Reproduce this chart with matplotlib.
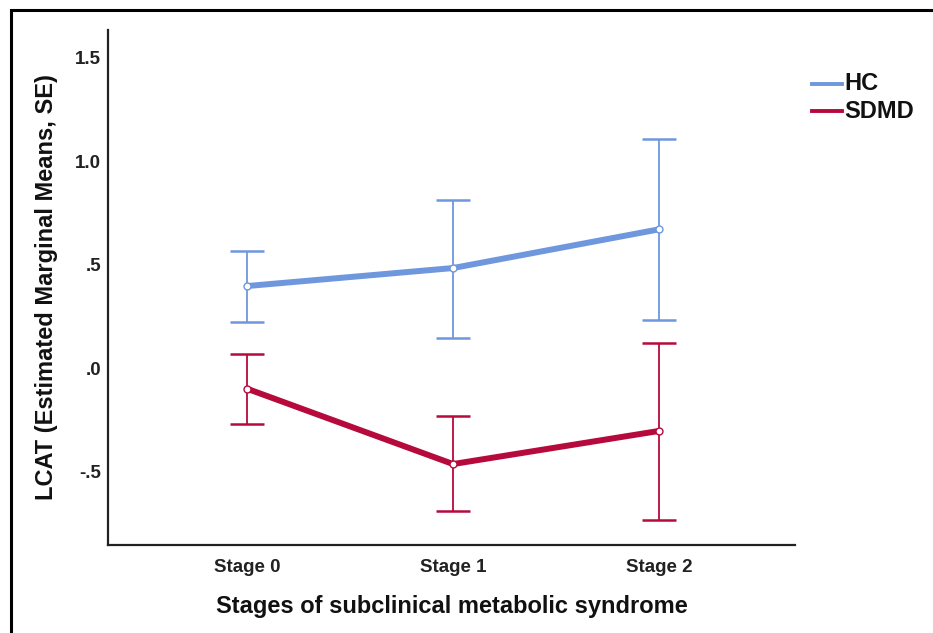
import matplotlib
matplotlib.use("Agg")
import matplotlib.pyplot as plt
from matplotlib.patches import Rectangle

plt.rcParams['font.family'] = ['Liberation Sans', 'DejaVu Sans']

stages = ["Stage 0", "Stage 1", "Stage 2"]
hc_mean = [0.396, 0.483, 0.670]
hc_low = [0.222, 0.145, 0.232]
hc_high = [0.565, 0.810, 1.106]
sdmd_mean = [-0.100, -0.464, -0.304]
sdmd_low = [-0.270, -0.690, -0.734]
sdmd_high = [0.068, -0.232, 0.120]
yticks = [-0.5, 0.0, 0.5, 1.0, 1.5]
ytick_labels = ["-.5", ".0", ".5", "1.0", "1.5"]

c_hc = "#6f97dd"
c_sd = "#b70a3c"

fig = plt.figure(figsize=(9.33, 6.33), dpi=100)
ax = fig.add_axes([108/933, 1-545/633, (795-108)/933, (545-30)/633])

x = list(range(len(stages)))
for mean, lo, hi, col in [(hc_mean, hc_low, hc_high, c_hc), (sdmd_mean, sdmd_low, sdmd_high, c_sd)]:
    yerr = [[m - l for m, l in zip(mean, lo)], [h - m for m, h in zip(mean, hi)]]
    ax.errorbar(x, mean, yerr=yerr, fmt='none', ecolor=col, elinewidth=1.3,
                capsize=12, capthick=1.8)
    ax.plot(x, mean, color=col, lw=4.3, solid_capstyle='round')
    ax.plot(x, mean, 'o', ms=5, mfc='white', mec=col, mew=1.0)

ax.set_xlim(-0.675, 2.66)
ax.set_ylim(-0.855, 1.633)
ax.set_xticks(x)
ax.set_xticklabels(stages, fontsize=13.5, fontweight='bold', color='#222222')
ax.set_yticks(yticks)
ax.set_yticklabels(ytick_labels, fontsize=13.5, fontweight='bold', color='#222222')
ax.tick_params(axis='y', length=0, pad=5)
ax.tick_params(axis='x', length=0, pad=10)
for s in ['top', 'right']:
    ax.spines[s].set_visible(False)
for s in ['left', 'bottom']:
    ax.spines[s].set_linewidth(1.6)
    ax.spines[s].set_color('#222222')

ax.set_xlabel("Stages of subclinical metabolic syndrome", fontsize=17, fontweight='bold', labelpad=14, color='#111111')
ax.set_ylabel("LCAT (Estimated Marginal Means, SE)", fontsize=17, fontweight='bold', labelpad=12, color='#111111')

# legend drawn manually in figure coords
for i, (lab, col) in enumerate([("HC", c_hc), ("SDMD", c_sd)]):
    yy = 1 - (84 + 27*i)/633
    fig.add_artist(plt.Line2D([812/933, 842/933], [yy, yy], color=col, lw=2.8, transform=fig.transFigure))
    fig.text(844/933, yy, lab, fontsize=17, fontweight='bold', va='center', ha='left', color='#111111')

# outer frame
fig.add_artist(Rectangle((11/933, -0.05), 1.0, 1 - 10/633 + 0.05, transform=fig.transFigure,
                         fill=False, edgecolor='black', lw=2.2))

fig.savefig("out.png", dpi=100)
